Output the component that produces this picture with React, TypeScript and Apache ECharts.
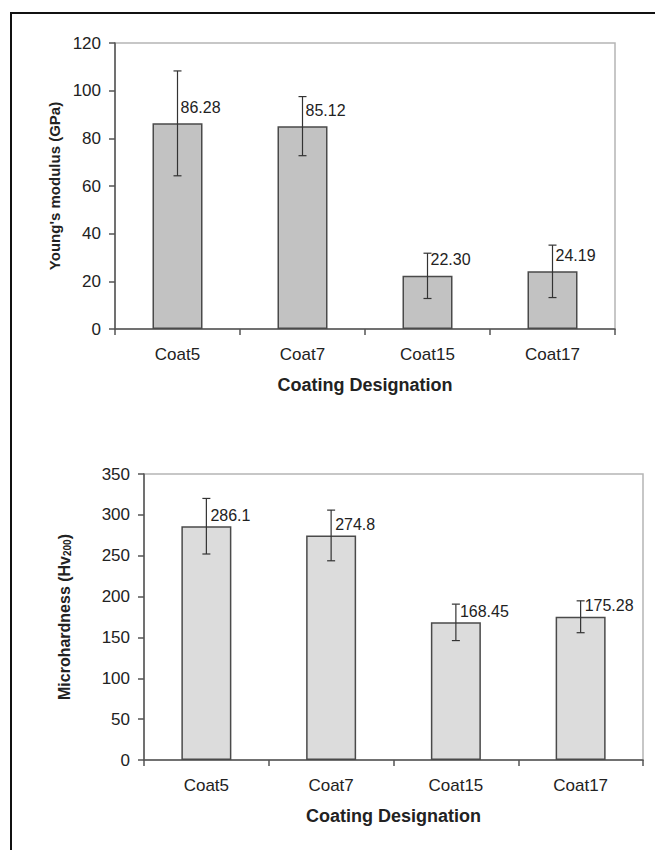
import React, { useEffect, useRef } from "react";
import * as echarts from "echarts";

const categories = ["Coat5", "Coat7", "Coat15", "Coat17"];
const modulus = [86.28, 85.12, 22.3, 24.19];
const modulusErr = [22, 12.4, 9.5, 11];
const modulusLabels = ["86.28", "85.12", "22.30", "24.19"];
const hardness = [286.1, 274.8, 168.45, 175.28];
const hardnessErr = [34, 31, 22.3, 19.5];
const hardnessLabels = ["286.1", "274.8", "168.45", "175.28"];
const modulusTicks = { min: 0, max: 120, interval: 20 };
const hardnessTicks = { min: 0, max: 350, interval: 50 };

const FONT = "'Liberation Sans', Arial, Helvetica, sans-serif";
const TEXT = "#222";
const AXIS = "#555";

function errorSeries(values: number[], errs: number[], axisIndex: number) {
  return {
    type: "custom",
    xAxisIndex: axisIndex,
    yAxisIndex: axisIndex,
    z: 5,
    silent: true,
    data: values.map((v, i) => [i, v, errs[i]]),
    encode: { x: 0, y: 1 },
    renderItem: (params: any, api: any) => {
      const x = api.value(0);
      const v = api.value(1);
      const e = api.value(2);
      const top = api.coord([x, v + e]);
      const bot = api.coord([x, v - e]);
      const h = 4;
      const st = { stroke: "#333", lineWidth: 1.2 };
      return {
        type: "group",
        children: [
          { type: "line", shape: { x1: top[0], y1: top[1], x2: bot[0], y2: bot[1] }, style: st },
          { type: "line", shape: { x1: top[0] - h, y1: top[1], x2: top[0] + h, y2: top[1] }, style: st },
          { type: "line", shape: { x1: bot[0] - h, y1: bot[1], x2: bot[0] + h, y2: bot[1] }, style: st },
        ],
      };
    },
  };
}

function xAxis(gridIndex: number) {
  return {
    type: "category",
    gridIndex,
    data: categories,
    name: "Coating Designation",
    nameLocation: "middle",
    nameGap: 47,
    nameTextStyle: { fontFamily: FONT, fontSize: 18, fontWeight: "bold", color: TEXT },
    axisLine: { lineStyle: { color: AXIS, width: 1.5 } },
    axisTick: { show: true, length: 6, lineStyle: { color: AXIS, width: 1.5 } },
    axisLabel: { fontFamily: FONT, fontSize: 17, color: TEXT, margin: 17 },
  };
}

function yAxis(gridIndex: number, ticks: any, name: string, nameGap: number, fontSize: number) {
  return {
    type: "value",
    gridIndex,
    min: ticks.min,
    max: ticks.max,
    interval: ticks.interval,
    name,
    nameLocation: "middle",
    nameGap,
    nameTextStyle: {
      fontFamily: FONT,
      fontSize,
      fontWeight: "bold",
      color: TEXT,
      rich: {
        sub: { fontFamily: FONT, fontSize: 10, fontWeight: "bold", color: TEXT, verticalAlign: "bottom", padding: [6, 0, 0, 0] },
      },
    },
    axisLine: { show: true, lineStyle: { color: AXIS, width: 1.5 } },
    axisTick: { show: true, length: 6, lineStyle: { color: AXIS, width: 1.5 } },
    splitLine: { show: false },
    axisLabel: { fontFamily: FONT, fontSize: 17, color: TEXT, margin: 14 },
  };
}

export default function App() {
  const ref = useRef<HTMLDivElement>(null);
  useEffect(() => {
    if (!ref.current) return;
    const chart = echarts.init(ref.current, null, { renderer: "svg" });
    chart.setOption({
      animation: false,
      backgroundColor: "#ffffff",
      grid: [
        { left: 115, top: 43, width: 500, height: 286, show: true, borderColor: "#b5b5b5", borderWidth: 1.5, backgroundColor: "transparent" },
        { left: 144, top: 474, width: 499, height: 286, show: true, borderColor: "#b5b5b5", borderWidth: 1.5, backgroundColor: "transparent" },
      ],
      xAxis: [xAxis(0), xAxis(1)],
      yAxis: [
        yAxis(0, modulusTicks, "Young's modulus (GPa)", 48, 15),
        yAxis(1, hardnessTicks, "Microhardness (Hv{sub|200})", 72, 16),
      ],
      series: [
        {
          type: "bar",
          xAxisIndex: 0,
          yAxisIndex: 0,
          data: modulus,
          barWidth: 50,
          itemStyle: { color: "#c2c2c2", borderColor: "#4a4a4a", borderWidth: 1.5 },
          label: {
            show: true,
            position: [28, -16],
            align: "left",
            verticalAlign: "middle",
            fontFamily: FONT,
            fontSize: 16,
            color: TEXT,
            formatter: (p: any) => modulusLabels[p.dataIndex],
          },
          z: 2,
        },
        errorSeries(modulus, modulusErr, 0),
        {
          type: "bar",
          xAxisIndex: 1,
          yAxisIndex: 1,
          data: hardness,
          barWidth: 50,
          itemStyle: { color: "#dcdcdc", borderColor: "#4a4a4a", borderWidth: 1.5 },
          label: {
            show: true,
            position: [29, -11],
            align: "left",
            verticalAlign: "middle",
            fontFamily: FONT,
            fontSize: 16,
            color: TEXT,
            formatter: (p: any) => hardnessLabels[p.dataIndex],
          },
          z: 2,
        },
        errorSeries(hardness, hardnessErr, 1),
      ],
    });
    return () => chart.dispose();
  }, []);
  return (
    <div style={{ position: "fixed", left: 0, top: 0, width: 655, height: 850, overflow: "hidden", background: "#fff" }}>
      <div ref={ref} style={{ position: "absolute", left: 0, top: 0, width: 655, height: 850 }} />
      <div
        style={{
          position: "absolute",
          left: 10,
          top: 12,
          width: 700,
          height: 900,
          borderTop: "2px solid #111",
          borderLeft: "2px solid #111",
          pointerEvents: "none",
        }}
      />
    </div>
  );
}
